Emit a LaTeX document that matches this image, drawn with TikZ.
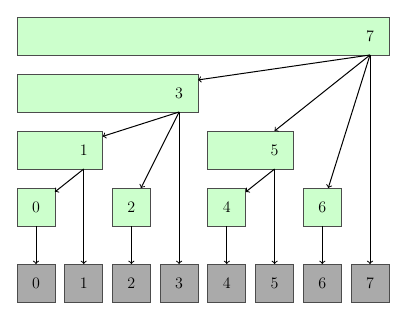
\documentclass[tikz,border=0pt]{standalone}
\definecolor{nodegreen}{RGB}{204,255,204}
\definecolor{leafgray}{RGB}{170,170,170}
\begin{document}
\begin{tikzpicture}[x=0.75pt,y=-0.75pt,
  every node/.style={font=\fontsize{12}{14}\selectfont},
  box/.style={draw=black!70,line width=0.6pt,minimum height=28.5pt,inner sep=0pt,outer sep=0pt},
  greenbox/.style={box,fill=nodegreen},
  graybox/.style={box,fill=leafgray,minimum width=28.5pt},
  leafbox/.style={greenbox,minimum width=28.5pt},
  lbl/.style={inner sep=0pt},
  arr/.style={->,line width=0.75pt,black}]
\useasboundingbox (0,0) rectangle (406,320);
% internal (range) nodes
\node[greenbox,minimum width=279pt] (g7) at (203,36) {};
\node[greenbox,minimum width=135.8pt] (g3) at (107.55,93) {};
\node[greenbox,minimum width=64.3pt] (g1) at (59.85,150) {};
\node[greenbox,minimum width=64.35pt] (g5) at (250.7,150) {};
\node[lbl] (l7) at (370,36) {7};
\node[lbl] (l3) at (179.1,93) {3};
\node[lbl] (l1) at (83.7,150) {1};
\node[lbl] (l5) at (274.6,150) {5};
\coordinate (a7) at (l7 |- g7.south);
\coordinate (a3) at (l3 |- g3.south);
\coordinate (a1) at (l1 |- g1.south);
\coordinate (a5) at (l5 |- g5.south);
% green leaves
\node[leafbox] (g0) at (36,207) {0};
\node[leafbox] (g2) at (131.4,207) {2};
\node[leafbox] (g4) at (226.8,207) {4};
\node[leafbox] (g6) at (322.3,207) {6};
% gray array
\node[graybox] (q0) at (36,283) {0};
\node[graybox] (q1) at (83.7,283) {1};
\node[graybox] (q2) at (131.4,283) {2};
\node[graybox] (q3) at (179.1,283) {3};
\node[graybox] (q4) at (226.8,283) {4};
\node[graybox] (q5) at (274.6,283) {5};
\node[graybox] (q6) at (322.3,283) {6};
\node[graybox] (q7) at (370,283) {7};
% connectors
\draw[arr] (a7) -- (g3);
\draw[arr] (a7) -- (g5);
\draw[arr] (a7) -- (g6);
\draw[arr] (a7) -- (q7);
\draw[arr] (a3) -- (g1);
\draw[arr] (a3) -- (g2);
\draw[arr] (a3) -- (q3);
\draw[arr] (a1) -- (g0);
\draw[arr] (a1) -- (q1);
\draw[arr] (a5) -- (g4);
\draw[arr] (a5) -- (q5);
\draw[arr] (g0) -- (q0);
\draw[arr] (g2) -- (q2);
\draw[arr] (g4) -- (q4);
\draw[arr] (g6) -- (q6);
\end{tikzpicture}
\end{document}
